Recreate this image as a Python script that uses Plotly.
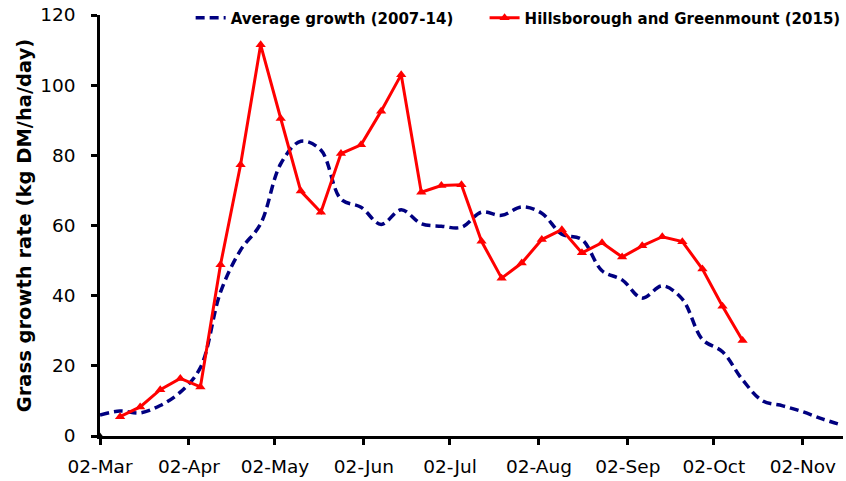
import plotly.graph_objects as go
from datetime import date, timedelta

# ---- data ----
start = date(2015, 3, 2)
avg_days = [7 * k for k in range(38)]
avg_values = [6.0, 7.1, 6.6, 8.7, 12.5, 19.5, 41.0, 53.0, 60.5, 77.6,
              84.0, 81.5, 67.5, 65.2, 60.3, 64.5, 60.5, 59.8, 59.5, 63.8,
              62.9, 65.3, 63.5, 57.5, 56.0, 47.1, 44.5, 39.3, 42.8, 39.0,
              27.5, 24.0, 16.0, 10.0, 8.6, 6.9, 4.8, 3.0]

hg_days = [7 + 7 * k for k in range(32)]
hg_values = [5.5, 8.3, 13.2, 16.4, 14.0, 48.8, 77.3, 111.5, 90.5, 69.8,
             63.8, 80.5, 83.0, 92.6, 103.0, 69.5, 71.4, 71.6, 55.5, 45.0,
             49.3, 56.0, 58.8, 52.2, 55.1, 51.0, 54.2, 56.8, 55.4, 47.6,
             37.0, 27.2]

origin_day = [0]
origin_value = [0]

tick_days = [0, 31, 61, 92, 122, 153, 184, 214, 245]
tick_labels = ["02-Mar", "02-Apr", "02-May", "02-Jun", "02-Jul",
               "02-Aug", "02-Sep", "02-Oct", "02-Nov"]
y_ticks = [0, 20, 40, 60, 80, 100, 120]


def to_dates(days):
    return [start + timedelta(days=d) for d in days]


fig = go.Figure()
fig.add_trace(go.Scatter(
    x=to_dates(avg_days), y=avg_values, mode="lines",
    name="Average growth (2007-14)", legend="legend",
    line=dict(color="#000080", width=3.5, dash="9px,5px", shape="spline", smoothing=1),
    cliponaxis=False,
))
fig.add_trace(go.Scatter(
    x=to_dates(hg_days), y=hg_values, mode="lines+markers",
    name="Hillsborough and Greenmount (2015)", legend="legend2",
    line=dict(color="#FF0000", width=3),
    marker=dict(symbol="triangle-up", size=9, color="#FF0000"),
    cliponaxis=False,
))
fig.add_trace(go.Scatter(
    x=to_dates(origin_day), y=origin_value, mode="markers",
    marker=dict(symbol="triangle-up", size=7, color="black"),
    showlegend=False, cliponaxis=False, hoverinfo="skip",
))

legend_font = dict(family="DejaVu Sans", size=15, weight="bold", color="black")
fig.update_layout(
    width=846, height=481,
    margin=dict(l=100, r=3, t=15, b=45, autoexpand=False),
    paper_bgcolor="white", plot_bgcolor="white",
    font=dict(family="DejaVu Sans", size=18, color="black"),
    legend=dict(orientation="h", x=0.122, y=0.993, xanchor="left", yanchor="middle",
                font=legend_font, bgcolor="rgba(0,0,0,0)", itemwidth=30),
    legend2=dict(orientation="h", x=0.5176, y=0.993, xanchor="left", yanchor="middle",
                 font=legend_font, bgcolor="rgba(0,0,0,0)", itemwidth=30),
)
fig.update_xaxes(
    type="date",
    range=[start, start + timedelta(days=259.8)],
    tickvals=to_dates(tick_days), ticktext=tick_labels,
    showline=True, linecolor="black", linewidth=2.5,
    ticks="outside", ticklen=6, tickwidth=2.5, tickcolor="black",
    showgrid=False, zeroline=False, automargin=False,
    tickfont=dict(size=18.5), ticklabelstandoff=6,
)
fig.update_yaxes(
    range=[0, 120], tickvals=y_ticks,
    showline=True, linecolor="black", linewidth=2.5,
    ticks="outside", ticklen=6, tickwidth=2.5, tickcolor="black",
    showgrid=False, zeroline=False, automargin=False,
    tickfont=dict(size=18.5), ticklabelstandoff=12,
    title=dict(text="Grass growth rate (kg DM/ha/day)",
               font=dict(size=19.5, weight="bold"), standoff=4),
)

fig.write_html("out.html", config={"displayModeBar": False},
               post_script="document.body.style.margin='0';")
